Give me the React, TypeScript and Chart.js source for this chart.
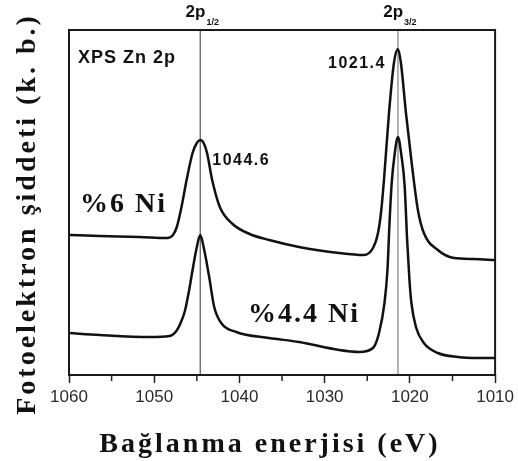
import { useEffect, useRef } from "react";
import { Chart, registerables } from "chart.js";

Chart.register(...registerables);

// ---- data ----
const xMin = 1010;
const xMax = 1060;
const majorStep = 10;
const minorTicks = [1055, 1045, 1035, 1025, 1015];
const peakPositions = [1044.6, 1021.4];
const peakValueLabels = ["1044.6", "1021.4"];
const peakOrbitals = ["1/2", "3/2"];
const sampleLabels = ["%6 Ni", "%4.4 Ni"];
const panelTitle = "XPS Zn 2p";
const xTitle = "Bağlanma enerjisi (eV)";
const yTitle = "Fotoelektron şiddeti (k. b.)";

// %6 Ni spectrum (upper)
const upperEnergy = [
  1060, 1056.4, 1051.7, 1048.5, 1047.8, 1047.35, 1046.8, 1046.2, 1045.5, 1045.0,
  1044.6, 1044.2, 1043.8, 1043.2, 1042.3, 1040.8, 1038.8, 1036.5, 1033.0, 1028.3,
  1025.4, 1024.33, 1023.74, 1023.39, 1023.04, 1022.45, 1021.87, 1021.4, 1021.05,
  1020.46, 1019.76, 1019.06, 1018.36, 1016.72, 1014.84, 1012.5, 1010,
];
const upperCounts = [
  140, 139, 138, 137, 140, 148, 168, 195, 222, 232,
  235, 232, 222, 195, 168, 151, 141, 135, 128, 122,
  120, 127, 142, 162, 195, 262, 312, 326, 312,
  262, 210, 165, 142, 125, 117, 116, 115,
];

// %4.4 Ni spectrum (lower)
const lowerEnergy = [
  1060, 1056.4, 1050.5, 1048.2, 1047.4, 1046.9, 1046.4, 1045.9, 1045.5, 1045.07, 1044.6,
  1044.13, 1043.55, 1042.96, 1042.14, 1040.38, 1036.52, 1033.0, 1028.3, 1025.95,
  1024.33, 1023.62, 1022.98, 1022.63, 1022.4, 1022.15, 1021.8, 1021.4, 1021.0,
  1020.62, 1020.32, 1020.05, 1019.82, 1019.29, 1018.36, 1016.72, 1014.37, 1012.0, 1010,
];
const lowerCounts = [
  42, 40, 38, 39, 44, 52, 64, 85, 105, 125, 140,
  125, 98, 68, 52, 43, 37, 33, 25, 23,
  27, 42, 72, 105, 150, 190, 220, 238, 220,
  190, 135, 95, 72, 48, 32, 22, 18, 17, 17,
];

const yMin = 0;
const yMax = 345;

const toPoints = (xs: number[], ys: number[]) => xs.map((x, i) => ({ x, y: ys[i] }));

const annotationPlugin = {
  id: "xpsAnnotations",
  afterDraw(chart: any) {
    const { ctx, chartArea: a } = chart;
    const xs = chart.scales.x;
    ctx.save();
    // frame
    ctx.strokeStyle = "#1a1a1a";
    ctx.lineWidth = 2;
    ctx.strokeRect(a.left, a.top, a.right - a.left, a.bottom - a.top);
    // minor ticks
    ctx.lineWidth = 1.5;
    ctx.strokeStyle = "#222";
    minorTicks.forEach((v) => {
      const px = xs.getPixelForValue(v);
      ctx.beginPath();
      ctx.moveTo(px, a.bottom);
      ctx.lineTo(px, a.bottom + 6);
      ctx.stroke();
    });

    ctx.fillStyle = "#111";
    ctx.textBaseline = "alphabetic";
    // orbital labels above the frame
    peakPositions.forEach((v, i) => {
      const px = xs.getPixelForValue(v);
      ctx.font = "bold 17px 'Liberation Sans', Arial, sans-serif";
      const w1 = ctx.measureText("2p").width;
      ctx.font = "bold 9px 'Liberation Sans', Arial, sans-serif";
      const w2 = ctx.measureText(peakOrbitals[i]).width;
      const left = px + 2 - (w1 + 1 + w2) / 2;
      ctx.font = "bold 17px 'Liberation Sans', Arial, sans-serif";
      ctx.textAlign = "left";
      ctx.fillText("2p", left, 17);
      ctx.font = "bold 9px 'Liberation Sans', Arial, sans-serif";
      ctx.fillText(peakOrbitals[i], left + w1 + 1, 25);
    });

    // panel title
    ctx.textAlign = "left";
    ctx.font = "bold 18px 'Liberation Sans', Arial, sans-serif";
    (ctx as any).letterSpacing = "1px";
    ctx.fillText(panelTitle, a.left + 9, a.top + 33);

    // peak value labels
    ctx.font = "bold 16px 'Liberation Sans', Arial, sans-serif";
    (ctx as any).letterSpacing = "1.5px";
    const p1 = xs.getPixelForValue(peakPositions[0]);
    ctx.fillText(peakValueLabels[0], p1 + 12, 165);
    const p2 = xs.getPixelForValue(peakPositions[1]);
    ctx.textAlign = "right";
    ctx.fillText(peakValueLabels[1], p2 - 12, 68);

    // sample labels
    ctx.textAlign = "left";
    ctx.font = "bold 28px 'Liberation Serif', 'Times New Roman', serif";
    (ctx as any).letterSpacing = "2px";
    ctx.fillText(sampleLabels[0], 80, 212);
    ctx.fillText(sampleLabels[1], 248, 322);

    // axis titles
    ctx.font = "bold 28px 'Liberation Serif', 'Times New Roman', serif";
    (ctx as any).letterSpacing = "3px";
    ctx.textAlign = "center";
    ctx.fillText(xTitle, 270, 452);

    ctx.save();
    ctx.translate(35, 214);
    ctx.rotate(-Math.PI / 2);
    ctx.fillText(yTitle, 0, 0);
    ctx.restore();

    (ctx as any).letterSpacing = "0px";
    ctx.restore();
  },
};

export default function App() {
  const ref = useRef<HTMLCanvasElement | null>(null);
  useEffect(() => {
    if (!ref.current) return;
    const chart = new Chart(ref.current, {
      type: "line",
      data: {
        datasets: [
          {
            label: sampleLabels[0],
            data: toPoints(upperEnergy, upperCounts),
            borderColor: "#111",
            borderWidth: 2.5,
            pointRadius: 0,
            cubicInterpolationMode: "monotone",
            fill: false,
          },
          {
            label: sampleLabels[1],
            data: toPoints(lowerEnergy, lowerCounts),
            borderColor: "#111",
            borderWidth: 2.5,
            pointRadius: 0,
            cubicInterpolationMode: "monotone",
            fill: false,
          },
          {
            label: "2p1/2",
            data: [
              { x: peakPositions[0], y: yMin },
              { x: peakPositions[0], y: yMax },
            ],
            borderColor: "#555",
            borderWidth: 1.2,
            pointRadius: 0,
          },
          {
            label: "2p3/2",
            data: [
              { x: peakPositions[1], y: yMin },
              { x: peakPositions[1], y: yMax },
            ],
            borderColor: "#999",
            borderWidth: 1.5,
            pointRadius: 0,
          },
        ],
      },
      options: {
        responsive: false,
        animation: false,
        devicePixelRatio: 1,
        layout: { padding: { left: 69, right: 22, top: 30, bottom: 0 } },
        plugins: {
          legend: { display: false },
          tooltip: { enabled: false },
          title: { display: false },
        },
        scales: {
          x: {
            type: "linear",
            min: xMin,
            max: xMax,
            reverse: true,
            afterFit: (s: any) => {
              s.height = 86;
            },
            border: { display: false },
            grid: {
              drawOnChartArea: false,
              drawTicks: true,
              tickLength: 8,
              tickColor: "#222",
              tickWidth: 1.5,
            },
            ticks: {
              stepSize: majorStep,
              autoSkip: false,
              maxRotation: 0,
              padding: 4,
              color: "#2a2a2a",
              font: { family: "'Liberation Sans', Arial, sans-serif", size: 17 },
              callback: (v: any) => String(v),
            },
          },
          y: {
            display: false,
            min: yMin,
            max: yMax,
          },
        },
      },
      plugins: [annotationPlugin],
    });
    return () => chart.destroy();
  }, []);
  return (
    <div style={{ position: "absolute", left: 0, top: 0, width: 518, height: 461 }}>
      <canvas ref={ref} width={518} height={461} />
    </div>
  );
}
